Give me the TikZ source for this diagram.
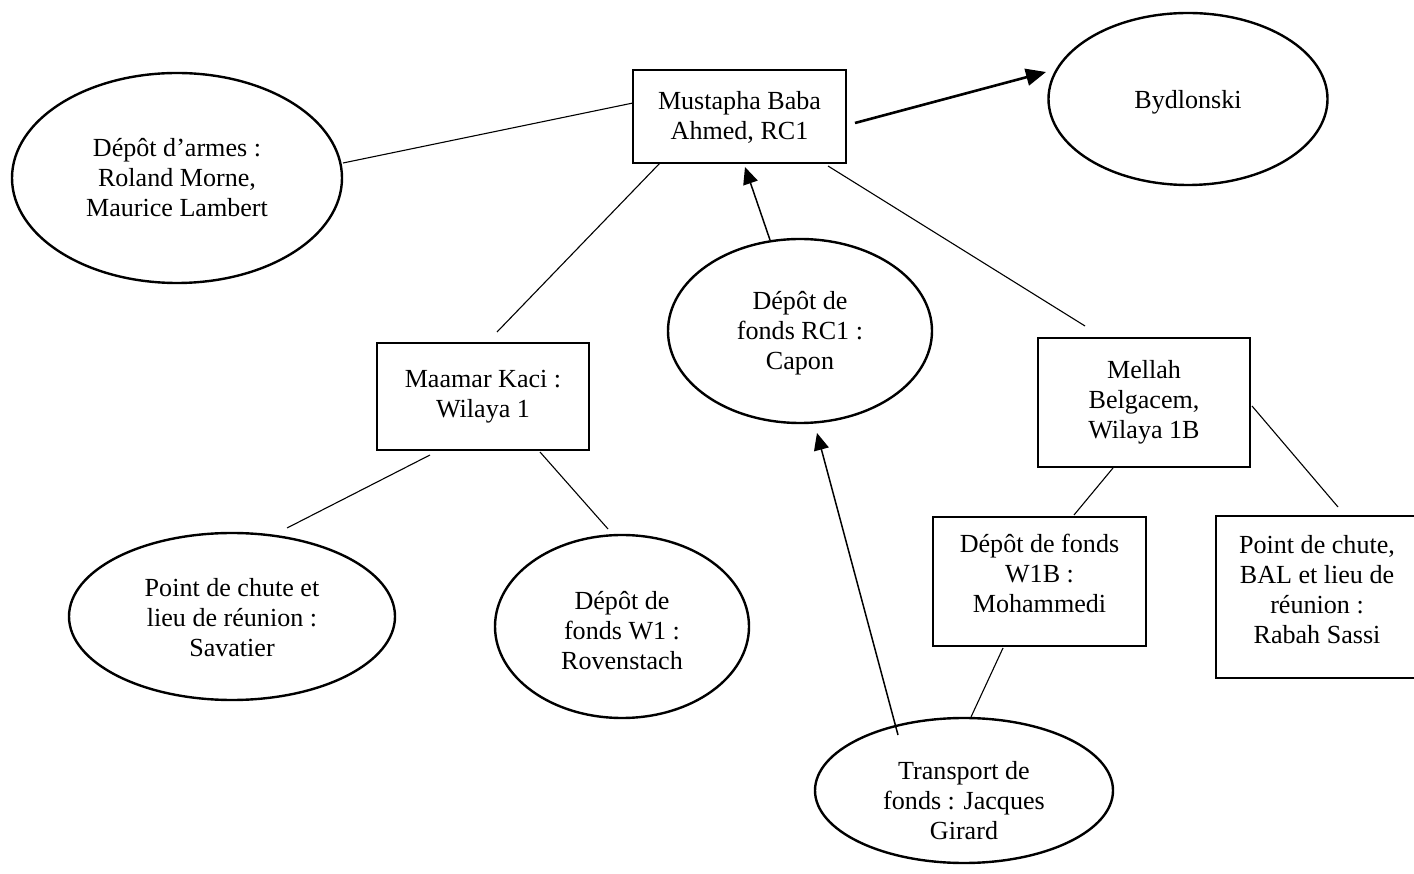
\documentclass[tikz,border=0pt]{standalone}
\usepackage{fontspec}
\setmainfont{Liberation Serif}
\usetikzlibrary{shapes.geometric,arrows.meta}

% one drawing unit
\newcommand{\pxu}{0.46pt}

\tikzset{
  box/.style={draw, line width=2.6*\pxu, rectangle, inner sep=0pt},
  oval/.style={draw, line width=2.4*\pxu, ellipse, inner sep=0pt},
  txt/.style={align=center, inner sep=0pt, font=\fontsize{12pt}{13.8pt}\selectfont},
  link/.style={line width=1.1*\pxu},
  flow/.style={line width=1.5*\pxu, -{Triangle[length=17*\pxu, width=15*\pxu]}},
  bigflow/.style={line width=2.6*\pxu, -{Triangle[length=20*\pxu, width=17*\pxu]}},
}

\begin{document}
\begin{tikzpicture}[x=\pxu, y=-\pxu]
  \clip (0,0) rectangle (1414,874);
  \fill[white] (0,0) rectangle (1414,874);

  % ---- nodes ----
  \node[oval, minimum width=330*\pxu, minimum height=210*\pxu,
        label={[txt]center:Dépôt d’armes :\\Roland Morne,\\Maurice Lambert}]
        (armes) at (177,178) {};
  \node[box, minimum width=213*\pxu, minimum height=93*\pxu,
        label={[txt, yshift=-1*\pxu]center:Mustapha Baba\\Ahmed, RC1}]
        (rc1) at (739.5,116.5) {};
  \node[oval, minimum width=279*\pxu, minimum height=172*\pxu,
        label={[txt, yshift=-3*\pxu]center:Bydlonski}]
        (byd) at (1188,99) {};
  \node[oval, minimum width=264*\pxu, minimum height=184*\pxu,
        label={[txt, yshift=-2*\pxu]center:Dépôt de\\fonds RC1 :\\Capon}]
        (capon) at (800,331) {};
  \node[box, minimum width=212*\pxu, minimum height=107*\pxu,
        label={[txt]center:Maamar Kaci :\\Wilaya 1}]
        (maamar) at (483,396.5) {};
  \node[box, minimum width=212*\pxu, minimum height=129*\pxu,
        label={[txt]center:Mellah\\Belgacem,\\Wilaya 1B}]
        (mellah) at (1144,402.5) {};
  \node[box, minimum width=213*\pxu, minimum height=129*\pxu,
        label={[txt, yshift=8*\pxu]center:Dépôt de fonds\\W1B :\\Mohammedi}]
        (w1b) at (1039.5,581.5) {};
  \node[box, minimum width=202*\pxu, minimum height=162*\pxu,
        label={[txt, yshift=7*\pxu]center:Point de chute,\\BAL et lieu de\\réunion :\\Rabah Sassi}]
        (rabah) at (1317,597) {};
  \node[oval, minimum width=326*\pxu, minimum height=167*\pxu,
        label={[txt, yshift=-1*\pxu]center:Point de chute et\\lieu de réunion :\\Savatier}]
        (savatier) at (232,616.5) {};
  \node[oval, minimum width=254*\pxu, minimum height=183*\pxu,
        label={[txt, yshift=-4*\pxu]center:Dépôt de\\fonds W1 :\\Rovenstach}]
        (roven) at (622,626.5) {};
  \node[oval, minimum width=298*\pxu, minimum height=145*\pxu,
        label={[txt, yshift=-10*\pxu]center:Transport de\\fonds : Jacques\\Girard}]
        (transport) at (964,790.5) {};

  % ---- connector ends ----
  \coordinate (armes-e)     at (343,163);
  \coordinate (rc1-w)       at (633,103);
  \coordinate (rc1-e)       at (855,123);
  \coordinate (byd-w)       at (1046,72);
  \coordinate (rc1-sw)      at (660,163);
  \coordinate (maamar-n)    at (497,332);
  \coordinate (capon-n)     at (770,240);
  \coordinate (rc1-s)       at (745,167);
  \coordinate (rc1-se)      at (828,166);
  \coordinate (mellah-n)    at (1085,326);
  \coordinate (maamar-sw)   at (430,455);
  \coordinate (savatier-n)  at (287,528);
  \coordinate (maamar-se)   at (540,452);
  \coordinate (roven-n)     at (608,529);
  \coordinate (transport-n) at (898,735);
  \coordinate (capon-s)     at (817,433);
  \coordinate (mellah-sw)   at (1113,468);
  \coordinate (w1b-n)       at (1074,515);
  \coordinate (mellah-e)    at (1252,406);
  \coordinate (rabah-n)     at (1338,507);
  \coordinate (w1b-s)       at (1003,648);
  \coordinate (transport-ne) at (971,717);

  % ---- connectors ----
  \draw[link] (armes-e) -- (rc1-w);
  \draw[bigflow] (rc1-e) -- (byd-w);
  \draw[link] (rc1-sw) -- (maamar-n);
  \draw[flow] (capon-n) -- (rc1-s);
  \draw[link] (rc1-se) -- (mellah-n);
  \draw[link] (maamar-sw) -- (savatier-n);
  \draw[link] (maamar-se) -- (roven-n);
  \draw[flow] (transport-n) -- (capon-s);
  \draw[link] (mellah-sw) -- (w1b-n);
  \draw[link] (mellah-e) -- (rabah-n);
  \draw[link] (w1b-s) -- (transport-ne);
\end{tikzpicture}
\end{document}
